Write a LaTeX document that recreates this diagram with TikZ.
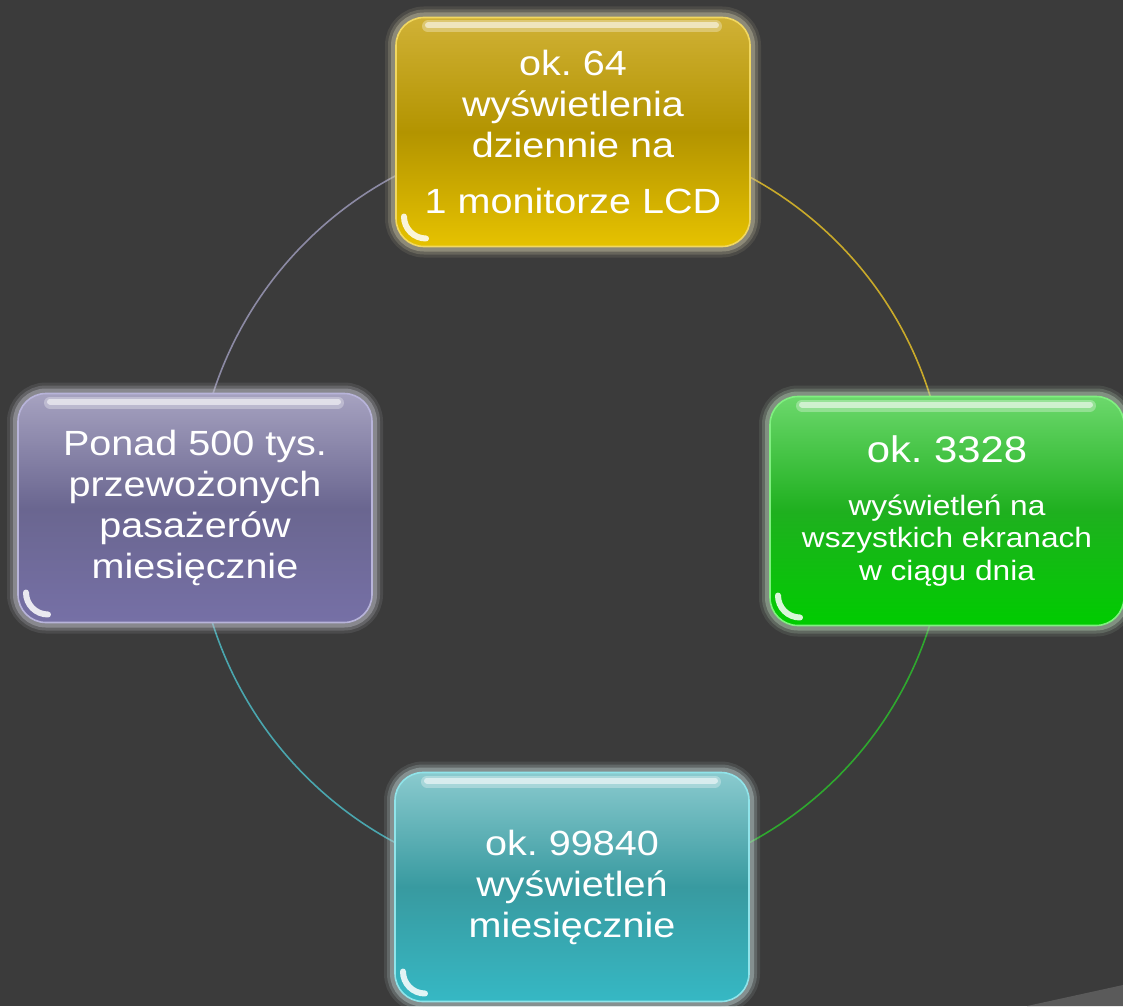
\documentclass[tikz,border=0pt]{standalone}
\usepackage{fontspec}
\newfontfamily\boxfont[FakeStretch=1.13]{Liberation Sans}
\frenchspacing
\pgfdeclarelayer{bg}
\pgfdeclarelayer{arcs}
\pgfsetlayers{bg,arcs,main}
\definecolor{bgc}{HTML}{3B3B3B}
\definecolor{wedgec}{HTML}{5A5A5A}
\definecolor{ytop}{HTML}{D0B136}\definecolor{ymid}{HTML}{B39400}\definecolor{ybot}{HTML}{E6C200}\definecolor{yglow}{HTML}{C8C2A4}\definecolor{yrim}{HTML}{F2D860}\definecolor{yline}{HTML}{C9AA2A}
\definecolor{gtop}{HTML}{6CD86C}\definecolor{gmid}{HTML}{1FB01F}\definecolor{gbot}{HTML}{00CC00}\definecolor{gglow}{HTML}{B4CEB4}\definecolor{grim}{HTML}{80F080}\definecolor{gline}{HTML}{2EA82E}
\definecolor{ptop}{HTML}{A6A2C0}\definecolor{pmid}{HTML}{6A6690}\definecolor{pbot}{HTML}{7670A6}\definecolor{pglow}{HTML}{C0C0CA}\definecolor{prim}{HTML}{B8B4DA}\definecolor{pline}{HTML}{8C8AA4}
\definecolor{ttop}{HTML}{8ACACE}\definecolor{tmid}{HTML}{389AA0}\definecolor{tbot}{HTML}{36B8C4}\definecolor{tglow}{HTML}{BACCCC}\definecolor{trim}{HTML}{90E4EA}\definecolor{tline}{HTML}{4AA6AE}
\tikzset{
  glass/.style={rectangle, rounded corners=28pt, minimum width=354pt, minimum height=229pt,
    inner sep=0pt, align=center, text=white, font=\boxfont\fontsize{35}{41}\selectfont,
    preaction={draw=#1glow, line width=22pt, opacity=.12},
    preaction={draw=#1glow, line width=16pt, opacity=.22},
    preaction={draw=#1glow, line width=10pt, opacity=.40},
    top color=#1top, bottom color=#1bot, middle color=#1mid,
    draw=#1rim, line width=1.6pt,
    path picture={
      \draw[white, opacity=.30, line width=12pt, line cap=round]
        ([xshift=32pt,yshift=-9pt]path picture bounding box.north west) --
        ([xshift=-34pt,yshift=-9pt]path picture bounding box.north east);
      \draw[white, opacity=.55, line width=6pt, line cap=round]
        ([xshift=32pt,yshift=-8pt]path picture bounding box.north west) --
        ([xshift=-34pt,yshift=-8pt]path picture bounding box.north east);
      \draw[white, opacity=.85, line width=6pt, line cap=round]
        ([xshift=8pt,yshift=30pt]path picture bounding box.south west)
        arc[start angle=180, end angle=270, radius=22pt];
    }},
  ring/.style={line width=1.6pt}
}
\begin{document}
\begin{tikzpicture}[x=1pt,y=1pt]
\useasboundingbox (0,0) rectangle (1123,-1006);
\begin{pgfonlayer}{bg}
  \fill[bgc] (0,0) rectangle (1123,-1006);
  \fill[wedgec] (1027,-1006) -- (1123,-985) -- (1123,-1006) -- cycle;
\end{pgfonlayer}
\node[glass=y] (top) at (573,-132) {ok. 64\\wyświetlenia\\dziennie na\\[15pt]1 monitorze LCD};
\node[glass=g, font=\boxfont\fontsize{28}{32.5}\selectfont] (right) at (947,-511)
  {{\fontsize{37}{41}\selectfont ok. 3328}\\[20pt]wyświetleń na\\wszystkich ekranach\\w ciągu dnia};
\node[glass=t] (bottom) at (572,-887) {ok. 99840\\wyświetleń\\miesięcznie};
\node[glass=p] (left) at (195,-508) {Ponad 500 tys.\\przewożonych\\pasażerów\\miesięcznie};
\begin{pgfonlayer}{arcs}
  \draw[ring, yline] (top.center) to[bend left=45] (right.center);
  \draw[ring, gline] (right.center) to[bend left=45] (bottom.center);
  \draw[ring, tline] (bottom.center) to[bend left=45] (left.center);
  \draw[ring, pline] (left.center) to[bend left=45] (top.center);
\end{pgfonlayer}
\end{tikzpicture}
\end{document}
